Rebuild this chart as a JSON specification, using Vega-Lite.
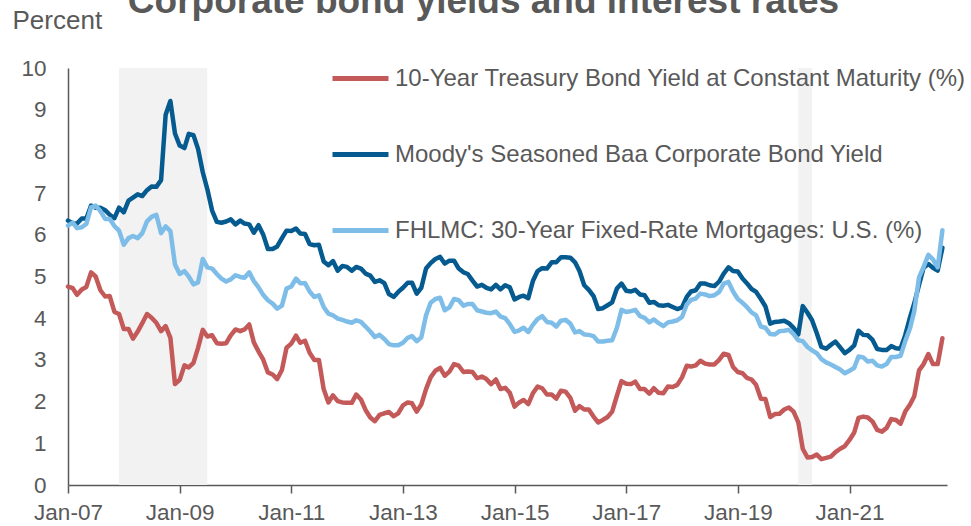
{
  "$schema": "https://vega.github.io/schema/vega-lite/v6.json",
  "autosize": "none",
  "width": 879,
  "height": 417,
  "padding": {"left": 68, "top": 68, "right": 24, "bottom": 41},
  "background": "white",
  "config": {
    "font": "Liberation Sans",
    "view": {"stroke": null}
  },
  "title": {
    "text": "Corporate bond yields and interest rates",
    "fontSize": 37,
    "fontWeight": "bold",
    "color": "#595959",
    "font": "Liberation Sans",
    "anchor": "middle",
    "frame": "group",
    "dx": -24,
    "baseline": "alphabetic",
    "offset": -43
  },
  "datasets": {
    "rec": [
      {"start": "2007-12-01", "end": "2009-06-30"},
      {"start": "2020-02-01", "end": "2020-04-30"}
    ],
    "rates": [
      {"d":"2007-01-01","t":4.76,"b":6.34,"m":6.22},
      {"d":"2007-02-01","t":4.72,"b":6.28,"m":6.29},
      {"d":"2007-03-01","t":4.56,"b":6.27,"m":6.16},
      {"d":"2007-04-01","t":4.69,"b":6.39,"m":6.18},
      {"d":"2007-05-01","t":4.75,"b":6.39,"m":6.26},
      {"d":"2007-06-01","t":5.10,"b":6.70,"m":6.66},
      {"d":"2007-07-01","t":5.00,"b":6.65,"m":6.70},
      {"d":"2007-08-01","t":4.67,"b":6.65,"m":6.57},
      {"d":"2007-09-01","t":4.52,"b":6.59,"m":6.38},
      {"d":"2007-10-01","t":4.53,"b":6.48,"m":6.38},
      {"d":"2007-11-01","t":4.15,"b":6.40,"m":6.21},
      {"d":"2007-12-01","t":4.10,"b":6.65,"m":6.10},
      {"d":"2008-01-01","t":3.74,"b":6.54,"m":5.76},
      {"d":"2008-02-01","t":3.74,"b":6.82,"m":5.92},
      {"d":"2008-03-01","t":3.51,"b":6.89,"m":5.97},
      {"d":"2008-04-01","t":3.68,"b":6.97,"m":5.92},
      {"d":"2008-05-01","t":3.88,"b":6.93,"m":6.04},
      {"d":"2008-06-01","t":4.10,"b":7.07,"m":6.32},
      {"d":"2008-07-01","t":4.01,"b":7.16,"m":6.43},
      {"d":"2008-08-01","t":3.89,"b":7.15,"m":6.48},
      {"d":"2008-09-01","t":3.69,"b":7.31,"m":6.04},
      {"d":"2008-10-01","t":3.81,"b":8.88,"m":6.20},
      {"d":"2008-11-01","t":3.53,"b":9.21,"m":6.09},
      {"d":"2008-12-01","t":2.42,"b":8.43,"m":5.29},
      {"d":"2009-01-01","t":2.52,"b":8.14,"m":5.06},
      {"d":"2009-02-01","t":2.87,"b":8.08,"m":5.13},
      {"d":"2009-03-01","t":2.82,"b":8.42,"m":5.00},
      {"d":"2009-04-01","t":2.93,"b":8.39,"m":4.81},
      {"d":"2009-05-01","t":3.29,"b":8.06,"m":4.86},
      {"d":"2009-06-01","t":3.72,"b":7.50,"m":5.42},
      {"d":"2009-07-01","t":3.56,"b":7.09,"m":5.22},
      {"d":"2009-08-01","t":3.59,"b":6.58,"m":5.19},
      {"d":"2009-09-01","t":3.40,"b":6.31,"m":5.06},
      {"d":"2009-10-01","t":3.39,"b":6.29,"m":4.95},
      {"d":"2009-11-01","t":3.40,"b":6.32,"m":4.88},
      {"d":"2009-12-01","t":3.59,"b":6.37,"m":4.93},
      {"d":"2010-01-01","t":3.73,"b":6.25,"m":5.03},
      {"d":"2010-02-01","t":3.69,"b":6.34,"m":4.99},
      {"d":"2010-03-01","t":3.73,"b":6.27,"m":4.97},
      {"d":"2010-04-01","t":3.85,"b":6.25,"m":5.10},
      {"d":"2010-05-01","t":3.42,"b":6.05,"m":4.89},
      {"d":"2010-06-01","t":3.20,"b":6.23,"m":4.74},
      {"d":"2010-07-01","t":3.01,"b":6.01,"m":4.56},
      {"d":"2010-08-01","t":2.70,"b":5.66,"m":4.43},
      {"d":"2010-09-01","t":2.65,"b":5.66,"m":4.35},
      {"d":"2010-10-01","t":2.54,"b":5.72,"m":4.23},
      {"d":"2010-11-01","t":2.76,"b":5.92,"m":4.30},
      {"d":"2010-12-01","t":3.29,"b":6.10,"m":4.71},
      {"d":"2011-01-01","t":3.39,"b":6.09,"m":4.76},
      {"d":"2011-02-01","t":3.58,"b":6.15,"m":4.95},
      {"d":"2011-03-01","t":3.41,"b":6.03,"m":4.84},
      {"d":"2011-04-01","t":3.46,"b":6.02,"m":4.84},
      {"d":"2011-05-01","t":3.17,"b":5.78,"m":4.64},
      {"d":"2011-06-01","t":3.00,"b":5.75,"m":4.51},
      {"d":"2011-07-01","t":3.00,"b":5.76,"m":4.55},
      {"d":"2011-08-01","t":2.30,"b":5.36,"m":4.27},
      {"d":"2011-09-01","t":1.98,"b":5.27,"m":4.11},
      {"d":"2011-10-01","t":2.15,"b":5.37,"m":4.07},
      {"d":"2011-11-01","t":2.01,"b":5.14,"m":3.99},
      {"d":"2011-12-01","t":1.98,"b":5.25,"m":3.96},
      {"d":"2012-01-01","t":1.97,"b":5.23,"m":3.92},
      {"d":"2012-02-01","t":1.97,"b":5.14,"m":3.89},
      {"d":"2012-03-01","t":2.17,"b":5.23,"m":3.95},
      {"d":"2012-04-01","t":2.05,"b":5.19,"m":3.91},
      {"d":"2012-05-01","t":1.80,"b":5.07,"m":3.80},
      {"d":"2012-06-01","t":1.62,"b":5.02,"m":3.68},
      {"d":"2012-07-01","t":1.53,"b":4.87,"m":3.55},
      {"d":"2012-08-01","t":1.68,"b":4.91,"m":3.60},
      {"d":"2012-09-01","t":1.72,"b":4.84,"m":3.50},
      {"d":"2012-10-01","t":1.75,"b":4.58,"m":3.38},
      {"d":"2012-11-01","t":1.65,"b":4.51,"m":3.35},
      {"d":"2012-12-01","t":1.72,"b":4.63,"m":3.35},
      {"d":"2013-01-01","t":1.91,"b":4.73,"m":3.41},
      {"d":"2013-02-01","t":1.98,"b":4.85,"m":3.53},
      {"d":"2013-03-01","t":1.96,"b":4.85,"m":3.57},
      {"d":"2013-04-01","t":1.76,"b":4.59,"m":3.45},
      {"d":"2013-05-01","t":1.93,"b":4.73,"m":3.54},
      {"d":"2013-06-01","t":2.30,"b":5.19,"m":4.07},
      {"d":"2013-07-01","t":2.58,"b":5.32,"m":4.37},
      {"d":"2013-08-01","t":2.74,"b":5.42,"m":4.46},
      {"d":"2013-09-01","t":2.81,"b":5.47,"m":4.49},
      {"d":"2013-10-01","t":2.62,"b":5.31,"m":4.19},
      {"d":"2013-11-01","t":2.72,"b":5.38,"m":4.26},
      {"d":"2013-12-01","t":2.90,"b":5.38,"m":4.46},
      {"d":"2014-01-01","t":2.86,"b":5.19,"m":4.43},
      {"d":"2014-02-01","t":2.71,"b":5.10,"m":4.30},
      {"d":"2014-03-01","t":2.72,"b":5.06,"m":4.34},
      {"d":"2014-04-01","t":2.71,"b":4.90,"m":4.34},
      {"d":"2014-05-01","t":2.56,"b":4.76,"m":4.19},
      {"d":"2014-06-01","t":2.60,"b":4.80,"m":4.16},
      {"d":"2014-07-01","t":2.54,"b":4.73,"m":4.13},
      {"d":"2014-08-01","t":2.42,"b":4.69,"m":4.12},
      {"d":"2014-09-01","t":2.53,"b":4.80,"m":4.16},
      {"d":"2014-10-01","t":2.30,"b":4.69,"m":4.04},
      {"d":"2014-11-01","t":2.33,"b":4.79,"m":4.00},
      {"d":"2014-12-01","t":2.21,"b":4.74,"m":3.86},
      {"d":"2015-01-01","t":1.88,"b":4.45,"m":3.67},
      {"d":"2015-02-01","t":1.98,"b":4.51,"m":3.71},
      {"d":"2015-03-01","t":2.04,"b":4.54,"m":3.77},
      {"d":"2015-04-01","t":1.94,"b":4.48,"m":3.67},
      {"d":"2015-05-01","t":2.20,"b":4.89,"m":3.84},
      {"d":"2015-06-01","t":2.36,"b":5.13,"m":3.98},
      {"d":"2015-07-01","t":2.32,"b":5.20,"m":4.05},
      {"d":"2015-08-01","t":2.17,"b":5.19,"m":3.91},
      {"d":"2015-09-01","t":2.17,"b":5.34,"m":3.89},
      {"d":"2015-10-01","t":2.07,"b":5.34,"m":3.80},
      {"d":"2015-11-01","t":2.26,"b":5.46,"m":3.94},
      {"d":"2015-12-01","t":2.24,"b":5.46,"m":3.96},
      {"d":"2016-01-01","t":2.09,"b":5.45,"m":3.87},
      {"d":"2016-02-01","t":1.78,"b":5.34,"m":3.66},
      {"d":"2016-03-01","t":1.89,"b":5.13,"m":3.69},
      {"d":"2016-04-01","t":1.81,"b":4.79,"m":3.61},
      {"d":"2016-05-01","t":1.81,"b":4.68,"m":3.60},
      {"d":"2016-06-01","t":1.64,"b":4.53,"m":3.57},
      {"d":"2016-07-01","t":1.50,"b":4.22,"m":3.44},
      {"d":"2016-08-01","t":1.56,"b":4.24,"m":3.44},
      {"d":"2016-09-01","t":1.63,"b":4.31,"m":3.46},
      {"d":"2016-10-01","t":1.76,"b":4.38,"m":3.47},
      {"d":"2016-11-01","t":2.14,"b":4.71,"m":3.77},
      {"d":"2016-12-01","t":2.49,"b":4.83,"m":4.20},
      {"d":"2017-01-01","t":2.43,"b":4.66,"m":4.15},
      {"d":"2017-02-01","t":2.42,"b":4.64,"m":4.17},
      {"d":"2017-03-01","t":2.48,"b":4.68,"m":4.20},
      {"d":"2017-04-01","t":2.30,"b":4.57,"m":4.05},
      {"d":"2017-05-01","t":2.30,"b":4.55,"m":4.01},
      {"d":"2017-06-01","t":2.19,"b":4.37,"m":3.90},
      {"d":"2017-07-01","t":2.32,"b":4.39,"m":3.97},
      {"d":"2017-08-01","t":2.21,"b":4.31,"m":3.88},
      {"d":"2017-09-01","t":2.20,"b":4.30,"m":3.81},
      {"d":"2017-10-01","t":2.36,"b":4.32,"m":3.90},
      {"d":"2017-11-01","t":2.35,"b":4.27,"m":3.92},
      {"d":"2017-12-01","t":2.40,"b":4.22,"m":3.95},
      {"d":"2018-01-01","t":2.58,"b":4.26,"m":4.03},
      {"d":"2018-02-01","t":2.86,"b":4.51,"m":4.33},
      {"d":"2018-03-01","t":2.84,"b":4.64,"m":4.44},
      {"d":"2018-04-01","t":2.87,"b":4.67,"m":4.47},
      {"d":"2018-05-01","t":2.98,"b":4.83,"m":4.59},
      {"d":"2018-06-01","t":2.91,"b":4.83,"m":4.57},
      {"d":"2018-07-01","t":2.89,"b":4.79,"m":4.53},
      {"d":"2018-08-01","t":2.89,"b":4.77,"m":4.55},
      {"d":"2018-09-01","t":3.00,"b":4.88,"m":4.63},
      {"d":"2018-10-01","t":3.15,"b":5.07,"m":4.83},
      {"d":"2018-11-01","t":3.12,"b":5.22,"m":4.87},
      {"d":"2018-12-01","t":2.83,"b":5.13,"m":4.64},
      {"d":"2019-01-01","t":2.71,"b":5.12,"m":4.46},
      {"d":"2019-02-01","t":2.68,"b":4.95,"m":4.37},
      {"d":"2019-03-01","t":2.57,"b":4.84,"m":4.27},
      {"d":"2019-04-01","t":2.53,"b":4.70,"m":4.14},
      {"d":"2019-05-01","t":2.40,"b":4.63,"m":4.07},
      {"d":"2019-06-01","t":2.07,"b":4.46,"m":3.80},
      {"d":"2019-07-01","t":2.06,"b":4.28,"m":3.77},
      {"d":"2019-08-01","t":1.63,"b":3.87,"m":3.62},
      {"d":"2019-09-01","t":1.70,"b":3.91,"m":3.61},
      {"d":"2019-10-01","t":1.71,"b":3.92,"m":3.69},
      {"d":"2019-11-01","t":1.81,"b":3.94,"m":3.70},
      {"d":"2019-12-01","t":1.86,"b":3.88,"m":3.72},
      {"d":"2020-01-01","t":1.76,"b":3.77,"m":3.62},
      {"d":"2020-02-01","t":1.50,"b":3.61,"m":3.47},
      {"d":"2020-03-01","t":0.87,"b":4.29,"m":3.45},
      {"d":"2020-04-01","t":0.66,"b":4.13,"m":3.31},
      {"d":"2020-05-01","t":0.67,"b":3.95,"m":3.23},
      {"d":"2020-06-01","t":0.73,"b":3.64,"m":3.16},
      {"d":"2020-07-01","t":0.62,"b":3.31,"m":3.02},
      {"d":"2020-08-01","t":0.65,"b":3.27,"m":2.94},
      {"d":"2020-09-01","t":0.68,"b":3.36,"m":2.89},
      {"d":"2020-10-01","t":0.79,"b":3.44,"m":2.83},
      {"d":"2020-11-01","t":0.87,"b":3.30,"m":2.77},
      {"d":"2020-12-01","t":0.93,"b":3.16,"m":2.68},
      {"d":"2021-01-01","t":1.08,"b":3.24,"m":2.74},
      {"d":"2021-02-01","t":1.26,"b":3.35,"m":2.81},
      {"d":"2021-03-01","t":1.61,"b":3.70,"m":3.08},
      {"d":"2021-04-01","t":1.64,"b":3.60,"m":3.06},
      {"d":"2021-05-01","t":1.62,"b":3.59,"m":2.96},
      {"d":"2021-06-01","t":1.52,"b":3.48,"m":2.98},
      {"d":"2021-07-01","t":1.32,"b":3.26,"m":2.87},
      {"d":"2021-08-01","t":1.28,"b":3.24,"m":2.84},
      {"d":"2021-09-01","t":1.37,"b":3.24,"m":2.90},
      {"d":"2021-10-01","t":1.58,"b":3.33,"m":3.07},
      {"d":"2021-11-01","t":1.56,"b":3.28,"m":3.07},
      {"d":"2021-12-01","t":1.47,"b":3.27,"m":3.10},
      {"d":"2022-01-01","t":1.76,"b":3.60,"m":3.45},
      {"d":"2022-02-01","t":1.93,"b":4.02,"m":3.76},
      {"d":"2022-03-01","t":2.13,"b":4.36,"m":4.17},
      {"d":"2022-04-01","t":2.75,"b":4.80,"m":4.98},
      {"d":"2022-05-01","t":2.90,"b":5.21,"m":5.23},
      {"d":"2022-06-01","t":3.14,"b":5.30,"m":5.52},
      {"d":"2022-07-01","t":2.90,"b":5.21,"m":5.41},
      {"d":"2022-08-01","t":2.90,"b":5.14,"m":5.22},
      {"d":"2022-09-01","t":3.52,"b":5.69,"m":6.11}
    ]
  },
  "layer": [
    {
      "data": {"name": "rec"},
      "mark": {"type": "rect", "color": "#f2f2f2"},
      "encoding": {
        "x": {"field": "start", "type": "temporal", "scale": {"type": "utc", "domain": [{"year": 2007, "month": 1, "date": 1, "utc": true}, {"year": 2022, "month": 10, "date": 1, "utc": true}]}},
        "x2": {"field": "end"}
      }
    },
    {
      "data": {"name": "rates"},
      "transform": [{"fold": ["t", "b", "m"], "as": ["s", "v"]}],
      "mark": {"type": "line", "strokeWidth": 4.5, "strokeJoin": "round", "strokeCap": "round"},
      "encoding": {
        "x": {
          "field": "d", "type": "temporal",
          "scale": {"type": "utc", "domain": [{"year": 2007, "month": 1, "date": 1, "utc": true}, {"year": 2022, "month": 10, "date": 1, "utc": true}]},
          "axis": {
            "title": null,
            "values": [
              {"year": 2007, "month": 1, "date": 1, "utc": true},
              {"year": 2009, "month": 1, "date": 1, "utc": true},
              {"year": 2011, "month": 1, "date": 1, "utc": true},
              {"year": 2013, "month": 1, "date": 1, "utc": true},
              {"year": 2015, "month": 1, "date": 1, "utc": true},
              {"year": 2017, "month": 1, "date": 1, "utc": true},
              {"year": 2019, "month": 1, "date": 1, "utc": true},
              {"year": 2021, "month": 1, "date": 1, "utc": true}
            ],
            "format": "%b-%y",
            "grid": false,
            "domainColor": "#595959",
            "domainWidth": 1.5,
            "tickColor": "#595959",
            "tickWidth": 1.5,
            "tickSize": 8,
            "labelFontSize": 22.5,
            "labelColor": "#595959",
            "labelPadding": 8,
            "labelFlush": false,
            "labelOverlap": false
          }
        },
        "y": {
          "field": "v", "type": "quantitative",
          "scale": {"domain": [0, 10], "nice": false, "zero": true},
          "axis": {
            "values": [0, 1, 2, 3, 4, 5, 6, 7, 8, 9, 10],
            "grid": false,
            "ticks": false,
            "domainColor": "#595959",
            "domainWidth": 1.5,
            "labelFontSize": 22.5,
            "labelColor": "#595959",
            "labelPadding": 22,
            "title": "Percent",
            "titleAngle": 0,
            "titleAlign": "left",
            "titleBaseline": "alphabetic",
            "titleX": -56,
            "titleY": -40,
            "titleFontSize": 26,
            "titleFontWeight": "normal",
            "titleColor": "#595959"
          }
        },
        "color": {
          "field": "s", "type": "nominal",
          "scale": {"domain": ["t", "b", "m"], "range": ["#c4595a", "#055b8f", "#7ebde8"]},
          "legend": {
            "title": null,
            "orient": "none",
            "legendX": 262,
            "legendY": -20,
            "padding": 0,
            "symbolType": "stroke",
            "symbolSize": 3136,
            "symbolStrokeWidth": 5,
            "rowPadding": 33,
            "labelOffset": 4,
            "labelFontSize": 24,
            "labelColor": "#595959",
            "labelLimit": 0,
            "labelExpr": "datum.value == 't' ? '10-Year Treasury Bond Yield at Constant Maturity (%)' : datum.value == 'b' ? \"Moody's Seasoned Baa Corporate Bond Yield\" : 'FHLMC: 30-Year Fixed-Rate Mortgages: U.S. (%)'"
          }
        }
      }
    }
  ]
}
